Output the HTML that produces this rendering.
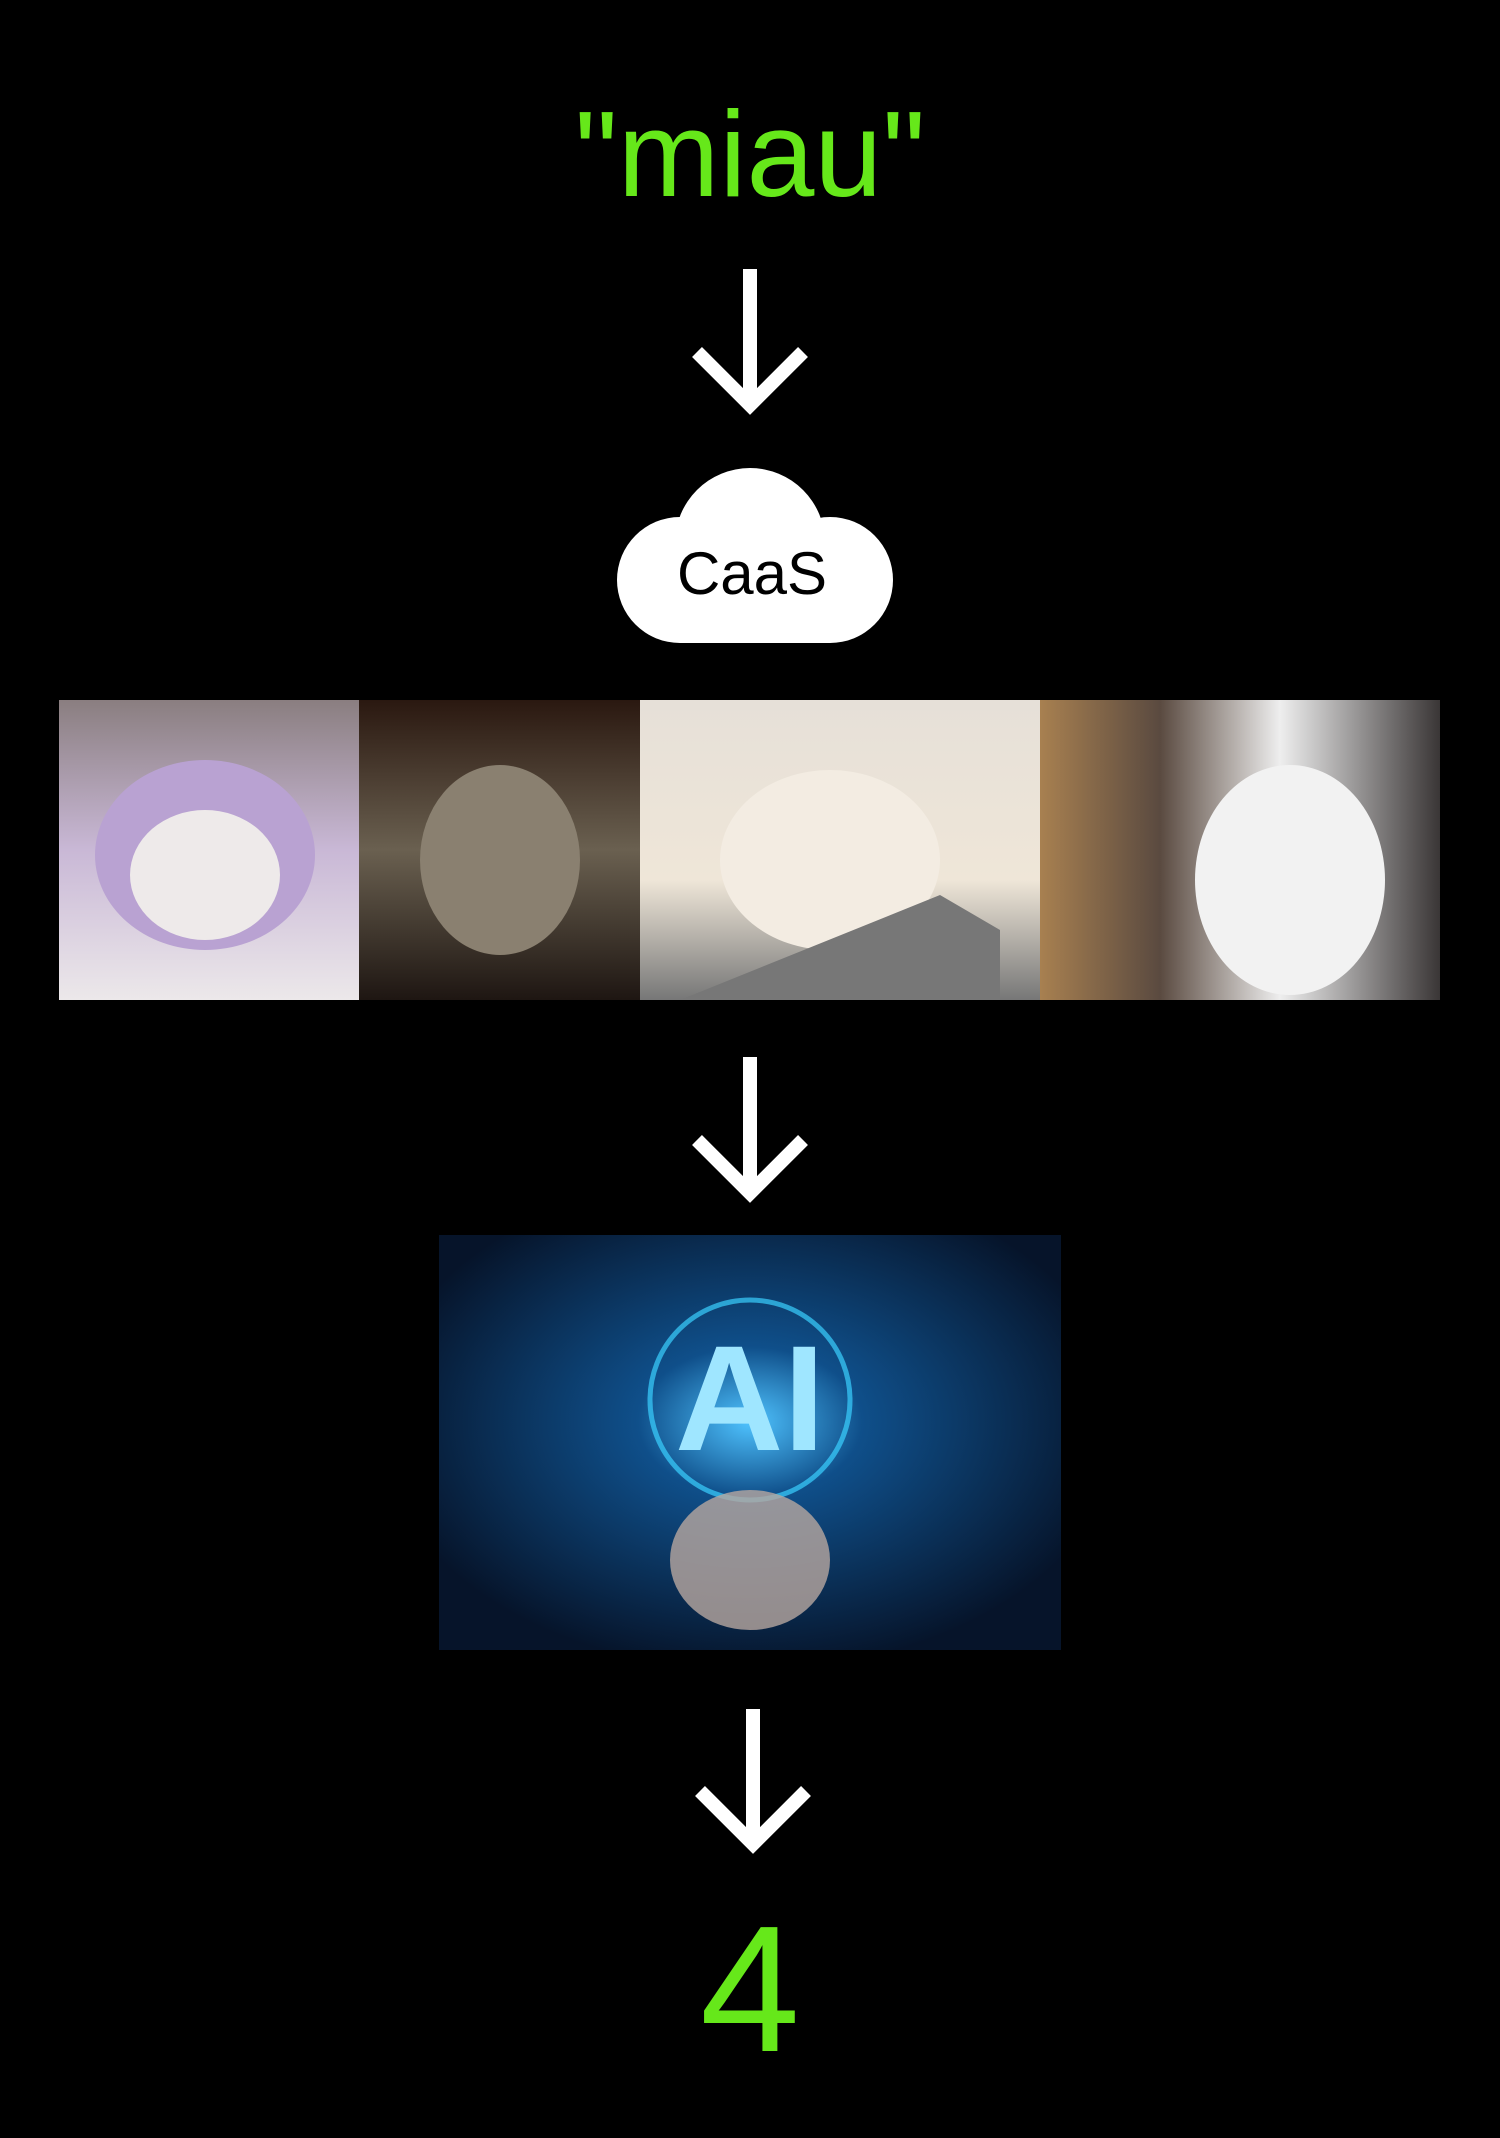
<!DOCTYPE html>
<html><head><meta charset="utf-8"><style>
html,body{margin:0;padding:0;background:#000;}
body{width:1500px;height:2138px;position:relative;overflow:hidden;font-family:"Liberation Sans","DejaVu Sans",sans-serif;}
.t{position:absolute;left:0;width:1500px;text-align:center;color:#66e81a;}
.b{position:absolute;}
</style></head><body>
<div class="t" style="top:84px;font-size:122px;line-height:140px;">"miau"</div>

<svg class="b" style="left:0;top:0" width="1500" height="2138">
 <g stroke="#fff" stroke-width="14" fill="none" stroke-linecap="butt">
  <line x1="750" y1="269" x2="750" y2="402"/><polyline points="697,352 750,405 803,352"/>
  <line x1="750" y1="1057" x2="750" y2="1190"/><polyline points="697,1140 750,1193 803,1140"/>
  <line x1="753" y1="1709" x2="753" y2="1841"/><polyline points="700,1791 753,1844 806,1791"/>
 </g>
 <g fill="#fff">
  <circle cx="750" cy="543" r="75"/>
  <circle cx="680" cy="580" r="63"/>
  <circle cx="830" cy="580" r="63"/>
  <rect x="680" y="540" width="150" height="103"/>
 </g>
 <text x="752" y="594" text-anchor="middle" font-family="Liberation Sans, sans-serif" font-size="60" fill="#000">CaaS</text>
 <defs>
  <radialGradient id="ai" cx="0.5" cy="0.45" r="0.6"><stop offset="0" stop-color="#4fc3ff"/><stop offset="0.3" stop-color="#0f4f8a"/><stop offset="1" stop-color="#06142a"/></radialGradient>
  <linearGradient id="c1" x1="0" y1="0" x2="0" y2="1"><stop offset="0" stop-color="#8a7e80"/><stop offset="0.5" stop-color="#c9b8d6"/><stop offset="1" stop-color="#ece8ea"/></linearGradient>
  <linearGradient id="c2" x1="0" y1="0" x2="0" y2="1"><stop offset="0" stop-color="#2a1810"/><stop offset="0.5" stop-color="#6a6050"/><stop offset="1" stop-color="#1e1612"/></linearGradient>
  <linearGradient id="c3" x1="0" y1="0" x2="0" y2="1"><stop offset="0" stop-color="#e6e0d8"/><stop offset="0.6" stop-color="#efe6d8"/><stop offset="1" stop-color="#777"/></linearGradient>
  <linearGradient id="c4" x1="0" y1="0" x2="1" y2="0"><stop offset="0" stop-color="#a88050"/><stop offset="0.3" stop-color="#5a4a40"/><stop offset="0.6" stop-color="#eeeeee"/><stop offset="1" stop-color="#3a3636"/></linearGradient>
 </defs>
 <rect x="59" y="700" width="300" height="300" fill="url(#c1)"/>
 <ellipse cx="205" cy="855" rx="110" ry="95" fill="#b9a2d2"/>
 <ellipse cx="205" cy="875" rx="75" ry="65" fill="#eeeaea"/>
 <rect x="359" y="700" width="281" height="300" fill="url(#c2)"/>
 <ellipse cx="500" cy="860" rx="80" ry="95" fill="#8a8070"/>
 <rect x="640" y="700" width="400" height="300" fill="url(#c3)"/>
 <ellipse cx="830" cy="860" rx="110" ry="90" fill="#f3ece2"/>
 <polygon points="680,1000 940,895 1000,930 1000,1000" fill="#777"/>
 <rect x="1040" y="700" width="400" height="300" fill="url(#c4)"/>
 <ellipse cx="1290" cy="880" rx="95" ry="115" fill="#f2f2f2"/>
 <rect x="439" y="1235" width="622" height="415" fill="url(#ai)"/>
 <circle cx="750" cy="1400" r="100" fill="none" stroke="#3ad0ff" stroke-width="5" opacity="0.7"/>
 <text x="750" y="1450" text-anchor="middle" font-size="150" font-weight="bold" fill="#9fe6ff" font-family="Liberation Sans, sans-serif">AI</text>
 <ellipse cx="750" cy="1560" rx="80" ry="70" fill="#b8a8a0" opacity="0.8"/>
</svg>

<div class="t" style="top:1900px;font-size:180px;line-height:180px;">4</div>
</body></html>
